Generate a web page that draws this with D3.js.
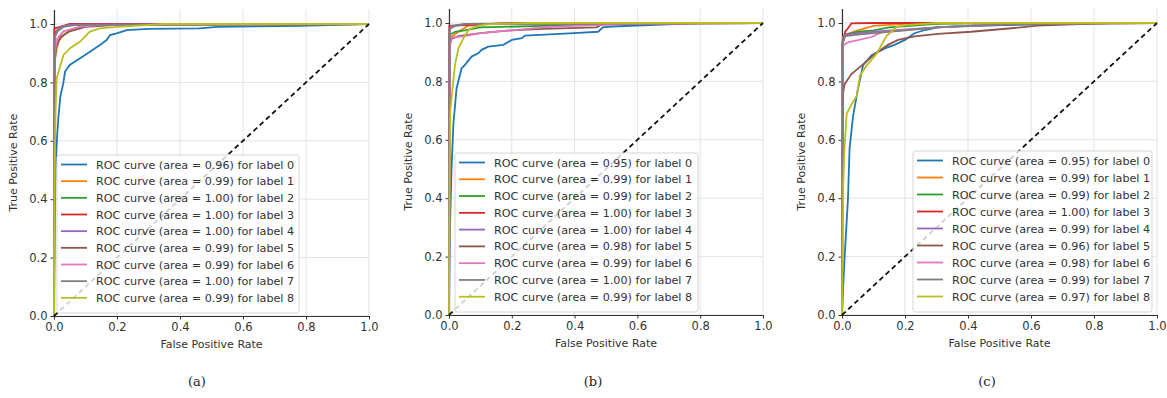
<!DOCTYPE html>
<html>
<head>
<meta charset="utf-8">
<script src="https://cdn.jsdelivr.net/npm/d3@7"></script>
<style>
  body { margin: 0; background: #fff; }
  svg { display: block; }
</style>
</head>
<body>
<div id="chart"></div>
<script>
const labels = [0, 1, 2, 3, 4, 5, 6, 7, 8];
const colors = ['#1f77b4', '#ff7f0e', '#2ca02c', '#d62728', '#9467bd', '#8c564b', '#e377c2', '#7f7f7f', '#bcbd22'];
const ticks = [0, 0.2, 0.4, 0.6, 0.8, 1.0];
const captions = ['(a)', '(b)', '(c)'];

const aucA = [0.96, 0.99, 1.00, 1.00, 1.00, 0.99, 0.99, 1.00, 0.99];
const aucB = [0.95, 0.99, 0.99, 1.00, 1.00, 0.98, 0.99, 1.00, 0.99];
const aucC = [0.95, 0.99, 0.99, 1.00, 0.99, 0.96, 0.98, 0.99, 0.97];

// ROC points [fpr, tpr] per label
const curvesA = [
  [[0,0],[0.002,0.3],[0.005,0.5],[0.01,0.62],[0.014,0.68],[0.02,0.75],[0.03,0.8],[0.035,0.837],[0.05,0.86],[0.083,0.883],[0.114,0.905],[0.146,0.928],[0.167,0.945],[0.178,0.962],[0.199,0.968],[0.231,0.979],[0.3,0.983],[0.46,0.985],[0.52,0.99],[0.78,0.994],[1,1]],
  [[0,0],[0.002,0.88],[0.014,0.94],[0.03,0.962],[0.05,0.979],[0.083,0.99],[0.15,0.998],[1,1]],
  [[0,0],[0.002,0.97],[0.02,0.99],[0.05,0.997],[1,1]],
  [[0,0],[0.001,0.985],[0.02,0.99],[0.05,1.0],[1,1]],
  [[0,0],[0.002,0.96],[0.02,0.99],[0.05,0.998],[1,1]],
  [[0,0],[0.002,0.85],[0.006,0.917],[0.02,0.955],[0.05,0.975],[0.1,0.99],[0.2,0.997],[1,1]],
  [[0,0],[0.002,0.9],[0.01,0.95],[0.03,0.975],[0.08,0.99],[0.15,0.997],[1,1]],
  [[0,0],[0.002,0.95],[0.01,0.975],[0.03,0.99],[0.07,0.997],[1,1]],
  [[0,0],[0.002,0.5],[0.005,0.7],[0.0085,0.814],[0.03,0.894],[0.051,0.917],[0.083,0.94],[0.114,0.974],[0.146,0.985],[0.2,0.99],[0.35,1],[1,1]]
];
const curvesB = [
  [[0,0],[0.003,0.3],[0.008,0.5],[0.014,0.654],[0.024,0.776],[0.04,0.845],[0.05,0.856],[0.072,0.885],[0.094,0.897],[0.104,0.908],[0.125,0.919],[0.173,0.925],[0.2,0.942],[0.232,0.948],[0.242,0.957],[0.306,0.96],[0.412,0.966],[0.475,0.97],[0.49,0.985],[0.518,0.988],[0.8,1],[1,1]],
  [[0,0],[0.002,0.94],[0.01,0.955],[0.03,0.97],[0.06,0.99],[0.15,0.998],[1,1]],
  [[0,0],[0.002,0.96],[0.02,0.97],[0.05,0.975],[0.1,0.985],[0.3,0.99],[0.5,0.997],[1,1]],
  [[0,0],[0.001,0.99],[0.1,0.995],[0.2,1],[1,1]],
  [[0,0],[0.002,0.98],[0.02,0.99],[0.06,0.997],[1,1]],
  [[0,0],[0.002,0.9],[0.005,0.945],[0.03,0.955],[0.1,0.965],[0.2,0.975],[0.3,0.98],[0.47,0.985],[0.49,0.997],[0.8,1],[1,1]],
  [[0,0],[0.002,0.92],[0.01,0.95],[0.05,0.955],[0.1,0.965],[0.2,0.975],[0.3,0.985],[0.4,0.99],[0.6,0.997],[1,1]],
  [[0,0],[0.001,0.94],[0.003,0.98],[0.01,0.99],[0.05,0.997],[1,1]],
  [[0,0],[0.002,0.5],[0.004,0.7],[0.008,0.742],[0.019,0.856],[0.03,0.913],[0.046,0.948],[0.062,0.976],[0.083,0.987],[0.115,0.995],[0.25,1],[1,1]]
];
const curvesC = [
  [[0,0],[0.003,0.08],[0.008,0.19],[0.019,0.4],[0.024,0.57],[0.035,0.68],[0.045,0.74],[0.05,0.77],[0.067,0.856],[0.094,0.89],[0.136,0.913],[0.167,0.925],[0.2,0.942],[0.23,0.965],[0.263,0.976],[0.31,0.986],[0.4,0.99],[0.8,1],[1,1]],
  [[0,0],[0.002,0.95],[0.01,0.96],[0.05,0.975],[0.1,0.99],[0.2,0.997],[0.35,1],[1,1]],
  [[0,0],[0.001,0.93],[0.01,0.96],[0.05,0.97],[0.1,0.975],[0.15,0.985],[0.3,0.997],[0.5,1],[1,1]],
  [[0,0],[0.002,0.93],[0.01,0.97],[0.019,0.982],[0.03,0.999],[0.1,1],[1,1]],
  [[0,0],[0.002,0.94],[0.01,0.96],[0.1,0.97],[0.3,0.985],[0.6,0.997],[1,1]],
  [[0,0],[0.001,0.5],[0.003,0.757],[0.008,0.79],[0.03,0.825],[0.062,0.854],[0.104,0.894],[0.146,0.925],[0.178,0.942],[0.23,0.954],[0.305,0.963],[0.41,0.97],[0.538,0.982],[0.62,0.991],[0.85,1],[1,1]],
  [[0,0],[0.001,0.85],[0.003,0.922],[0.019,0.934],[0.094,0.952],[0.125,0.968],[0.2,0.976],[0.305,0.985],[0.5,0.997],[1,1]],
  [[0,0],[0.002,0.93],[0.01,0.955],[0.05,0.96],[0.2,0.975],[0.3,0.985],[0.5,0.995],[1,1]],
  [[0,0],[0.002,0.2],[0.004,0.45],[0.008,0.57],[0.015,0.69],[0.03,0.72],[0.047,0.75],[0.057,0.82],[0.078,0.854],[0.11,0.895],[0.141,0.955],[0.173,0.987],[0.2,0.993],[0.3,1],[1,1]]
];

const panels = [
  { curves: curvesA, auc: aucA, x0: 54, x1: 369, y0: 316, leg: [57, 155, 242, 158], cap: 197 },
  { curves: curvesB, auc: aucB, x0: 449, x1: 763, y0: 315, leg: [455, 153, 243, 159], cap: 593 },
  { curves: curvesC, auc: aucC, x0: 842, x1: 1157, y0: 315, leg: [913, 151, 239, 161], cap: 987 }
];

const svg = d3.select('#chart').append('svg')
  .attr('width', 1167).attr('height', 398)
  .style('font-family', 'DejaVu Sans, sans-serif');

panels.forEach((p, k) => {
  const x = d3.scaleLinear().domain([0, 1]).range([p.x0, p.x1]);
  const y = d3.scaleLinear().domain([0, 1]).range([p.y0, p.y0 - 292]);
  const g = svg.append('g');

  // grid
  g.append('g').selectAll('line.vg').data(ticks).join('line')
    .attr('x1', d => x(d)).attr('x2', d => x(d))
    .attr('y1', y(0)).attr('y2', y(1.05))
    .attr('stroke', '#e3e3e3').attr('stroke-width', 1);
  g.append('g').selectAll('line.hg').data(ticks).join('line')
    .attr('x1', x(0)).attr('x2', x(1))
    .attr('y1', d => y(d)).attr('y2', d => y(d))
    .attr('stroke', '#e3e3e3').attr('stroke-width', 1);

  // axes
  const xa = g.append('g').attr('transform', `translate(0,${y(0)})`)
    .call(d3.axisBottom(x).tickValues(ticks).tickFormat(d3.format('.1f')).tickSize(3.5).tickPadding(3).tickSizeOuter(0));
  const ya = g.append('g').attr('transform', `translate(${x(0)},0)`)
    .call(d3.axisLeft(y.copy().domain([0, 1.05]).range([p.y0, p.y0 - 292 * 1.05])).tickValues(ticks).tickFormat(d3.format('.1f')).tickSize(3.5).tickPadding(3).tickSizeOuter(0));
  [xa, ya].forEach(a => {
    a.selectAll('path').attr('stroke', '#333').attr('stroke-width', 1.2);
    a.selectAll('line').attr('stroke', '#333');
    a.selectAll('text').attr('fill', '#333').style('font-size', '11.5px').style('font-family', 'DejaVu Sans, sans-serif');
  });

  g.append('text').text('False Positive Rate')
    .attr('x', (p.x0 + p.x1) / 2).attr('y', p.y0 + 32)
    .attr('text-anchor', 'middle').attr('fill', '#333').style('font-size', '11px');
  g.append('text').text('True Positive Rate')
    .attr('transform', `translate(${p.x0 - 37},${(y(0) + y(1.05)) / 2}) rotate(-90)`)
    .attr('text-anchor', 'middle').attr('fill', '#333').style('font-size', '11px');

  // curves
  const line = d3.line().x(d => x(d[0])).y(d => y(d[1]));
  g.append('g').selectAll('path').data(p.curves).join('path')
    .attr('d', line)
    .attr('fill', 'none')
    .attr('stroke', (d, i) => colors[i])
    .attr('stroke-width', 1.8);

  // diagonal
  g.append('path').attr('d', line([[0, 0], [1, 1]]))
    .attr('fill', 'none').attr('stroke', '#111').attr('stroke-width', 1.8)
    .attr('stroke-dasharray', '5,3.5');

  // legend
  const [lx, ly, lw, lh] = p.leg;
  const lg = g.append('g');
  lg.append('rect').attr('x', lx).attr('y', ly).attr('width', lw).attr('height', lh)
    .attr('rx', 2.5).attr('fill', 'white').attr('fill-opacity', 0.8)
    .attr('stroke', '#d6d6d6').attr('stroke-width', 1);
  const row = (lh - 8) / 9;
  labels.forEach((lab, i) => {
    const cy = ly + 9.5 + i * row;
    lg.append('line').attr('x1', lx + 4).attr('x2', lx + 30)
      .attr('y1', cy).attr('y2', cy)
      .attr('stroke', colors[i]).attr('stroke-width', 1.8);
    lg.append('text').text(`ROC curve (area = ${p.auc[i].toFixed(2)}) for label ${lab}`)
      .attr('x', lx + 39).attr('y', cy + 4)
      .attr('fill', '#333').style('font-size', '11.2px');
  });

  // caption
  svg.append('text').text(captions[k])
    .attr('x', p.cap).attr('y', 386)
    .attr('text-anchor', 'middle').attr('fill', '#222')
    .style('font-family', 'DejaVu Serif, serif').style('font-size', '13px');
});
</script>
</body>
</html>
